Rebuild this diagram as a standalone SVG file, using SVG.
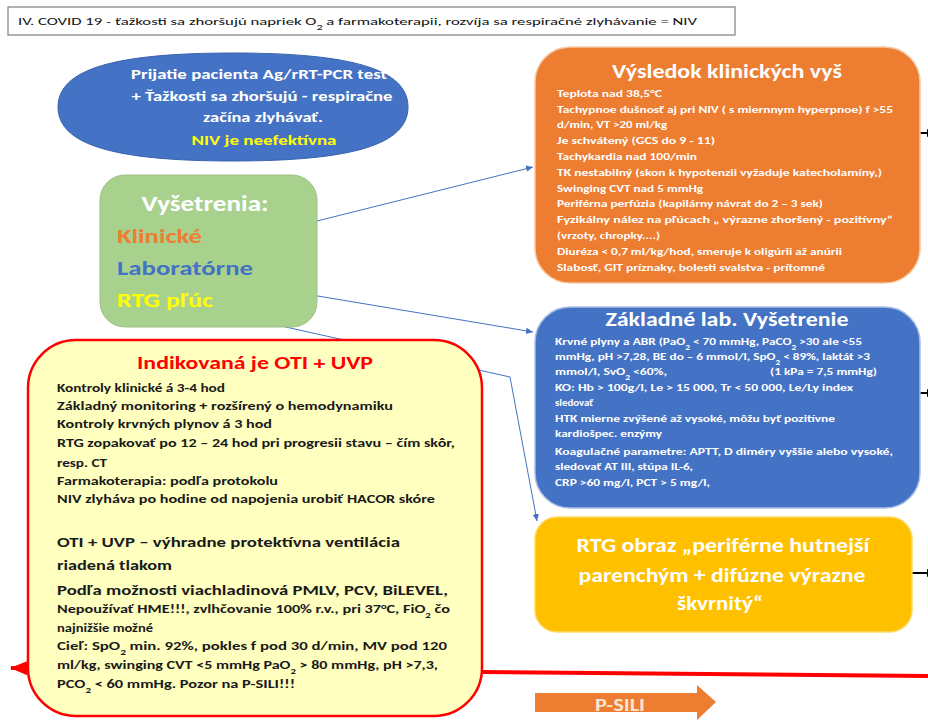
<svg xmlns="http://www.w3.org/2000/svg" width="928" height="720" viewBox="0 0 928 720">
  <style>
    text { font-family: Carlito, Lato, "Liberation Sans", sans-serif; }
    .b { font-weight: bold; }
    .wt { fill: #FFFFFF; font-weight: bold; }
    .small { font-size: 10.8px; }
    .rb { font-size: 12px; font-weight: bold; fill: #1A1A1A; }
    .rbl { font-size: 14.5px; font-weight: bold; fill: #1A1A1A; }
    .conn { stroke: #4472C4; stroke-width: 1; fill: none; }
    .blk { stroke: #000; stroke-width: 2; fill: none; }
  </style>
  <defs>
    <marker id="arrBlue" markerWidth="8" markerHeight="8" refX="7" refY="4" orient="auto" markerUnits="userSpaceOnUse">
      <path d="M0,0.8 L7,4 L0,7.2 Z" fill="#4472C4"/>
    </marker>
    <marker id="arrBlack" markerWidth="8" markerHeight="8" refX="7" refY="4" orient="auto" markerUnits="userSpaceOnUse">
      <path d="M0,0 L8,4 L0,8 Z" fill="#000"/>
    </marker>
    <marker id="arrRed" markerWidth="18" markerHeight="14" refX="16" refY="7" orient="auto" markerUnits="userSpaceOnUse">
      <path d="M0,0 L17,7 L0,14 Z" fill="#FF0000"/>
    </marker>
  </defs>

  <rect width="928" height="720" fill="#FFFFFF"/>

  <!-- heading bar -->
  <g id="title">
    <rect x="8" y="7" width="727" height="28" fill="#FFFFFF" stroke="#7F7F7F" stroke-width="1.2"/>
    <text x="18" y="25" font-size="11" textLength="679" lengthAdjust="spacingAndGlyphs" fill="#111">IV. COVID 19  - ťažkosti sa zhoršujú napriek O<tspan font-size="8" baseline-shift="sub">2</tspan> a farmakoterapii, rozvíja sa respiračné zlyhávanie = NIV</text>
  </g>

  <!-- connectors (drawn beneath the boxes) -->
  <g id="connectors">
    <path class="conn" d="M213,247 L533,167" marker-end="url(#arrBlue)"/>
    <path class="conn" d="M258,286 L533,332" marker-end="url(#arrBlue)"/>
    <path class="conn" d="M223,313 L510,377 L537,521" marker-end="url(#arrBlue)"/>
    <path class="blk" d="M920,133 L934,133" marker-end="url(#arrBlack)"/>
    <path class="blk" d="M920,393 L934,393" marker-end="url(#arrBlack)"/>
    <path class="blk" d="M912,573 L934,573" marker-end="url(#arrBlack)"/>
    <path d="M930,676 L11,668" stroke="#FF0000" stroke-width="4" fill="none" marker-end="url(#arrRed)"/>
  </g>

  <!-- admission oval -->
  <g id="admission">
    <path d="M58,107 C58,69 115,53 233,53 C351,53 408,69 408,107 C408,145 351,161 233,161 C115,161 58,145 58,107 Z" fill="#4472C4" stroke="#3A63AE" stroke-width="1"/>
    <text x="259" y="79" class="wt" font-size="14" text-anchor="middle" textLength="256" lengthAdjust="spacingAndGlyphs">Prijatie pacienta Ag/rRT-PCR test</text>
    <text x="262" y="101" class="wt" font-size="14" text-anchor="middle" textLength="261" lengthAdjust="spacingAndGlyphs">+ Ťažkosti sa zhoršujú - respiračne</text>
    <text x="263" y="122" class="wt" font-size="14" text-anchor="middle" textLength="120" lengthAdjust="spacingAndGlyphs">začína zlyhávať.</text>
    <text x="264" y="145" class="b" fill="#FFFF00" font-size="14" text-anchor="middle" textLength="145" lengthAdjust="spacingAndGlyphs">NIV je neefektívna</text>
  </g>

  <!-- examinations -->
  <g id="examinations">
    <rect x="100" y="175" width="217" height="152" rx="25" fill="#A9D18E" stroke="#9DBF86" stroke-width="1"/>
    <text x="205" y="211" class="wt" font-size="23" text-anchor="middle" textLength="127" lengthAdjust="spacingAndGlyphs">Vyšetrenia:</text>
    <text x="117" y="243" class="b" fill="#ED7D31" font-size="21" textLength="85" lengthAdjust="spacingAndGlyphs">Klinické</text>
    <text x="117" y="275" class="b" fill="#4472C4" font-size="21" textLength="136" lengthAdjust="spacingAndGlyphs">Laboratórne</text>
    <text x="117" y="307" class="b" fill="#FFFF00" font-size="21" textLength="96" lengthAdjust="spacingAndGlyphs">RTG pľúc</text>
  </g>

  <!-- clinical findings -->
  <g id="clinical">
    <rect x="535" y="47" width="385" height="236" rx="35" fill="#ED7D31" stroke="#F6C9A6" stroke-width="1.5"/>
    <text x="727" y="78" class="wt" font-size="21" text-anchor="middle" textLength="230" lengthAdjust="spacingAndGlyphs">Výsledok klinických vyš</text>
    <g class="wt small">
      <text x="557" y="97" textLength="105" lengthAdjust="spacingAndGlyphs">Teplota nad 38,5°C</text>
      <text x="557" y="113" textLength="336" lengthAdjust="spacingAndGlyphs">Tachypnoe  dušnosť aj pri NIV ( s miernnym  hyperpnoe) f &gt;55</text>
      <text x="557" y="128" textLength="110" lengthAdjust="spacingAndGlyphs">d/min, VT &gt;20 ml/kg</text>
      <text x="557" y="144" textLength="158" lengthAdjust="spacingAndGlyphs">Je schvátený  (GCS do 9 - 11)</text>
      <text x="557" y="160" textLength="140" lengthAdjust="spacingAndGlyphs">Tachykardia  nad 100/min</text>
      <text x="557" y="176" textLength="325" lengthAdjust="spacingAndGlyphs">TK nestabilný  (skon k  hypotenzii vyžaduje katecholamíny,)</text>
      <text x="557" y="192" textLength="146" lengthAdjust="spacingAndGlyphs">Swinging  CVT nad 5 mmHg</text>
      <text x="557" y="207" textLength="266" lengthAdjust="spacingAndGlyphs">Periférna perfúzia (kapilárny  návrat do 2 – 3 sek)</text>
      <text x="557" y="223" textLength="336" lengthAdjust="spacingAndGlyphs">Fyzikálny  nález na pľúcach  „ výrazne zhoršený - pozitívny“</text>
      <text x="557" y="239" textLength="103" lengthAdjust="spacingAndGlyphs">(vrzoty, chropky....)</text>
      <text x="557" y="255" textLength="285" lengthAdjust="spacingAndGlyphs">Diuréza &lt; 0,7 ml/kg/hod, smeruje k oligúrii  až anúrii</text>
      <text x="557" y="271" textLength="268" lengthAdjust="spacingAndGlyphs">Slabosť, GIT príznaky, bolesti svalstva - prítomné</text>
    </g>
  </g>

  <!-- basic laboratory tests -->
  <g id="laboratory">
    <rect x="535" y="307" width="385" height="201" rx="35" fill="#4472C4" stroke="#A9BEE3" stroke-width="1.5"/>
    <text x="727" y="326" class="wt" font-size="21" text-anchor="middle" textLength="243" lengthAdjust="spacingAndGlyphs">Základné lab. Vyšetrenie</text>
    <g class="wt small">
      <text x="555" y="345" textLength="307" lengthAdjust="spacingAndGlyphs">Krvné plyny a ABR (PaO<tspan font-size="7.5" baseline-shift="sub">2</tspan> &lt; 70 mmHg, PaCO<tspan font-size="7.5" baseline-shift="sub">2</tspan> &gt;30 ale &lt;55</text>
      <text x="555" y="360" textLength="315" lengthAdjust="spacingAndGlyphs">mmHg, pH &gt;7,28,  BE  do – 6 mmol/l,  SpO<tspan font-size="7.5" baseline-shift="sub">2</tspan> &lt; 89%, laktát &gt;3</text>
      <text x="555" y="375" textLength="112" lengthAdjust="spacingAndGlyphs">mmol/l,  SvO<tspan font-size="7.5" baseline-shift="sub">2</tspan> &lt;60%,</text>
      <text x="770" y="375" textLength="107" lengthAdjust="spacingAndGlyphs">(1 kPa = 7,5 mmHg)</text>
      <text x="555" y="391" textLength="298" lengthAdjust="spacingAndGlyphs">KO: Hb &gt; 100g/l,  Le &gt; 15 000, Tr &lt; 50 000,  Le/Ly index</text>
      <text x="555" y="406">sledovať</text>
      <text x="555" y="422" textLength="280" lengthAdjust="spacingAndGlyphs">HTK mierne zvýšené  až vysoké, môžu byť pozitívne</text>
      <text x="555" y="437" textLength="107" lengthAdjust="spacingAndGlyphs">kardiošpec.  enzýmy</text>
      <text x="555" y="455" textLength="338" lengthAdjust="spacingAndGlyphs">Koagulačné  parametre: APTT,  D diméry  vyššie alebo  vysoké,</text>
      <text x="555" y="470" textLength="138" lengthAdjust="spacingAndGlyphs">sledovať AT III,  stúpa IL-6,</text>
      <text x="555" y="486" textLength="155" lengthAdjust="spacingAndGlyphs">CRP &gt;60 mg/l,  PCT &gt; 5 mg/l,</text>
    </g>
  </g>

  <!-- chest X-ray finding -->
  <g id="xray">
    <rect x="535" y="517" width="377" height="115" rx="22" fill="#FFC000" stroke="#FFDA66" stroke-width="1.5"/>
    <text x="723" y="552" class="wt" font-size="20" text-anchor="middle" textLength="293" lengthAdjust="spacingAndGlyphs">RTG obraz „periférne hutnejší</text>
    <text x="722" y="582" class="wt" font-size="20" text-anchor="middle" textLength="287" lengthAdjust="spacingAndGlyphs">parenchým + difúzne výrazne</text>
    <text x="720" y="610" class="wt" font-size="20" text-anchor="middle" textLength="86" lengthAdjust="spacingAndGlyphs">škvrnitý“</text>
  </g>

  <!-- intubation and ventilation -->
  <g id="intubation">
    <rect x="28" y="340" width="454" height="376" rx="48" fill="#FFFFBF" stroke="#FF0000" stroke-width="2.5"/>
    <text x="255" y="369" class="b" fill="#FF0000" font-size="18.5" text-anchor="middle" textLength="236" lengthAdjust="spacingAndGlyphs">Indikovaná je OTI + UVP</text>
    <g class="rb">
      <text x="57" y="392" textLength="168" lengthAdjust="spacingAndGlyphs">Kontroly klinické á 3-4 hod</text>
      <text x="57" y="410" textLength="336" lengthAdjust="spacingAndGlyphs">Základný monitoring + rozšírený o hemodynamiku</text>
      <text x="57" y="428" textLength="215" lengthAdjust="spacingAndGlyphs">Kontroly krvných plynov á 3 hod</text>
      <text x="57" y="447" textLength="398" lengthAdjust="spacingAndGlyphs">RTG zopakovať po 12 – 24 hod pri progresii stavu – čím skôr,</text>
      <text x="57" y="467" textLength="50" lengthAdjust="spacingAndGlyphs">resp. CT</text>
      <text x="57" y="485" textLength="221" lengthAdjust="spacingAndGlyphs">Farmakoterapia: podľa protokolu</text>
      <text x="57" y="503" textLength="378" lengthAdjust="spacingAndGlyphs">NIV zlyháva po hodine od napojenia urobiť HACOR skóre</text>
    </g>
    <g class="rbl">
      <text x="57" y="547" textLength="343" lengthAdjust="spacingAndGlyphs">OTI + UVP – výhradne protektívna ventilácia</text>
      <text x="57" y="570" textLength="115" lengthAdjust="spacingAndGlyphs">riadená tlakom</text>
      <text x="57" y="595" textLength="391" lengthAdjust="spacingAndGlyphs">Podľa možnosti viachladinová PMLV, PCV, BiLEVEL,</text>
    </g>
    <g class="rb">
      <text x="57" y="613" textLength="393" lengthAdjust="spacingAndGlyphs">Nepoužívať HME!!!, zvlhčovanie 100% r.v., pri  37°C, FiO<tspan font-size="8" baseline-shift="sub">2</tspan> čo</text>
      <text x="57" y="632" textLength="96" lengthAdjust="spacingAndGlyphs">najnižšie možné</text>
      <text x="57" y="650" textLength="390" lengthAdjust="spacingAndGlyphs">Cieľ: SpO<tspan font-size="8" baseline-shift="sub">2</tspan> min. 92%, pokles f pod 30 d/min,  MV pod  120</text>
      <text x="57" y="669" textLength="381" lengthAdjust="spacingAndGlyphs">ml/kg, swinging CVT &lt;5 mmHg PaO<tspan font-size="8" baseline-shift="sub">2</tspan> &gt; 80 mmHg, pH &gt;7,3,</text>
      <text x="57" y="688" textLength="238" lengthAdjust="spacingAndGlyphs">PCO<tspan font-size="8" baseline-shift="sub">2</tspan> &lt; 60 mmHg.  Pozor na P-SILI!!!</text>
    </g>
  </g>

  <!-- P-SILI block arrow -->
  <g id="psili">
    <path d="M535,693 L697,693 L697,685 L716,702 L697,720 L697,712 L535,712 Z" fill="#ED7D31"/>
    <text x="620" y="711" class="b" fill="#FBE3D3" font-size="17" text-anchor="middle" textLength="50" lengthAdjust="spacingAndGlyphs">P-SILI</text>
  </g>
</svg>
